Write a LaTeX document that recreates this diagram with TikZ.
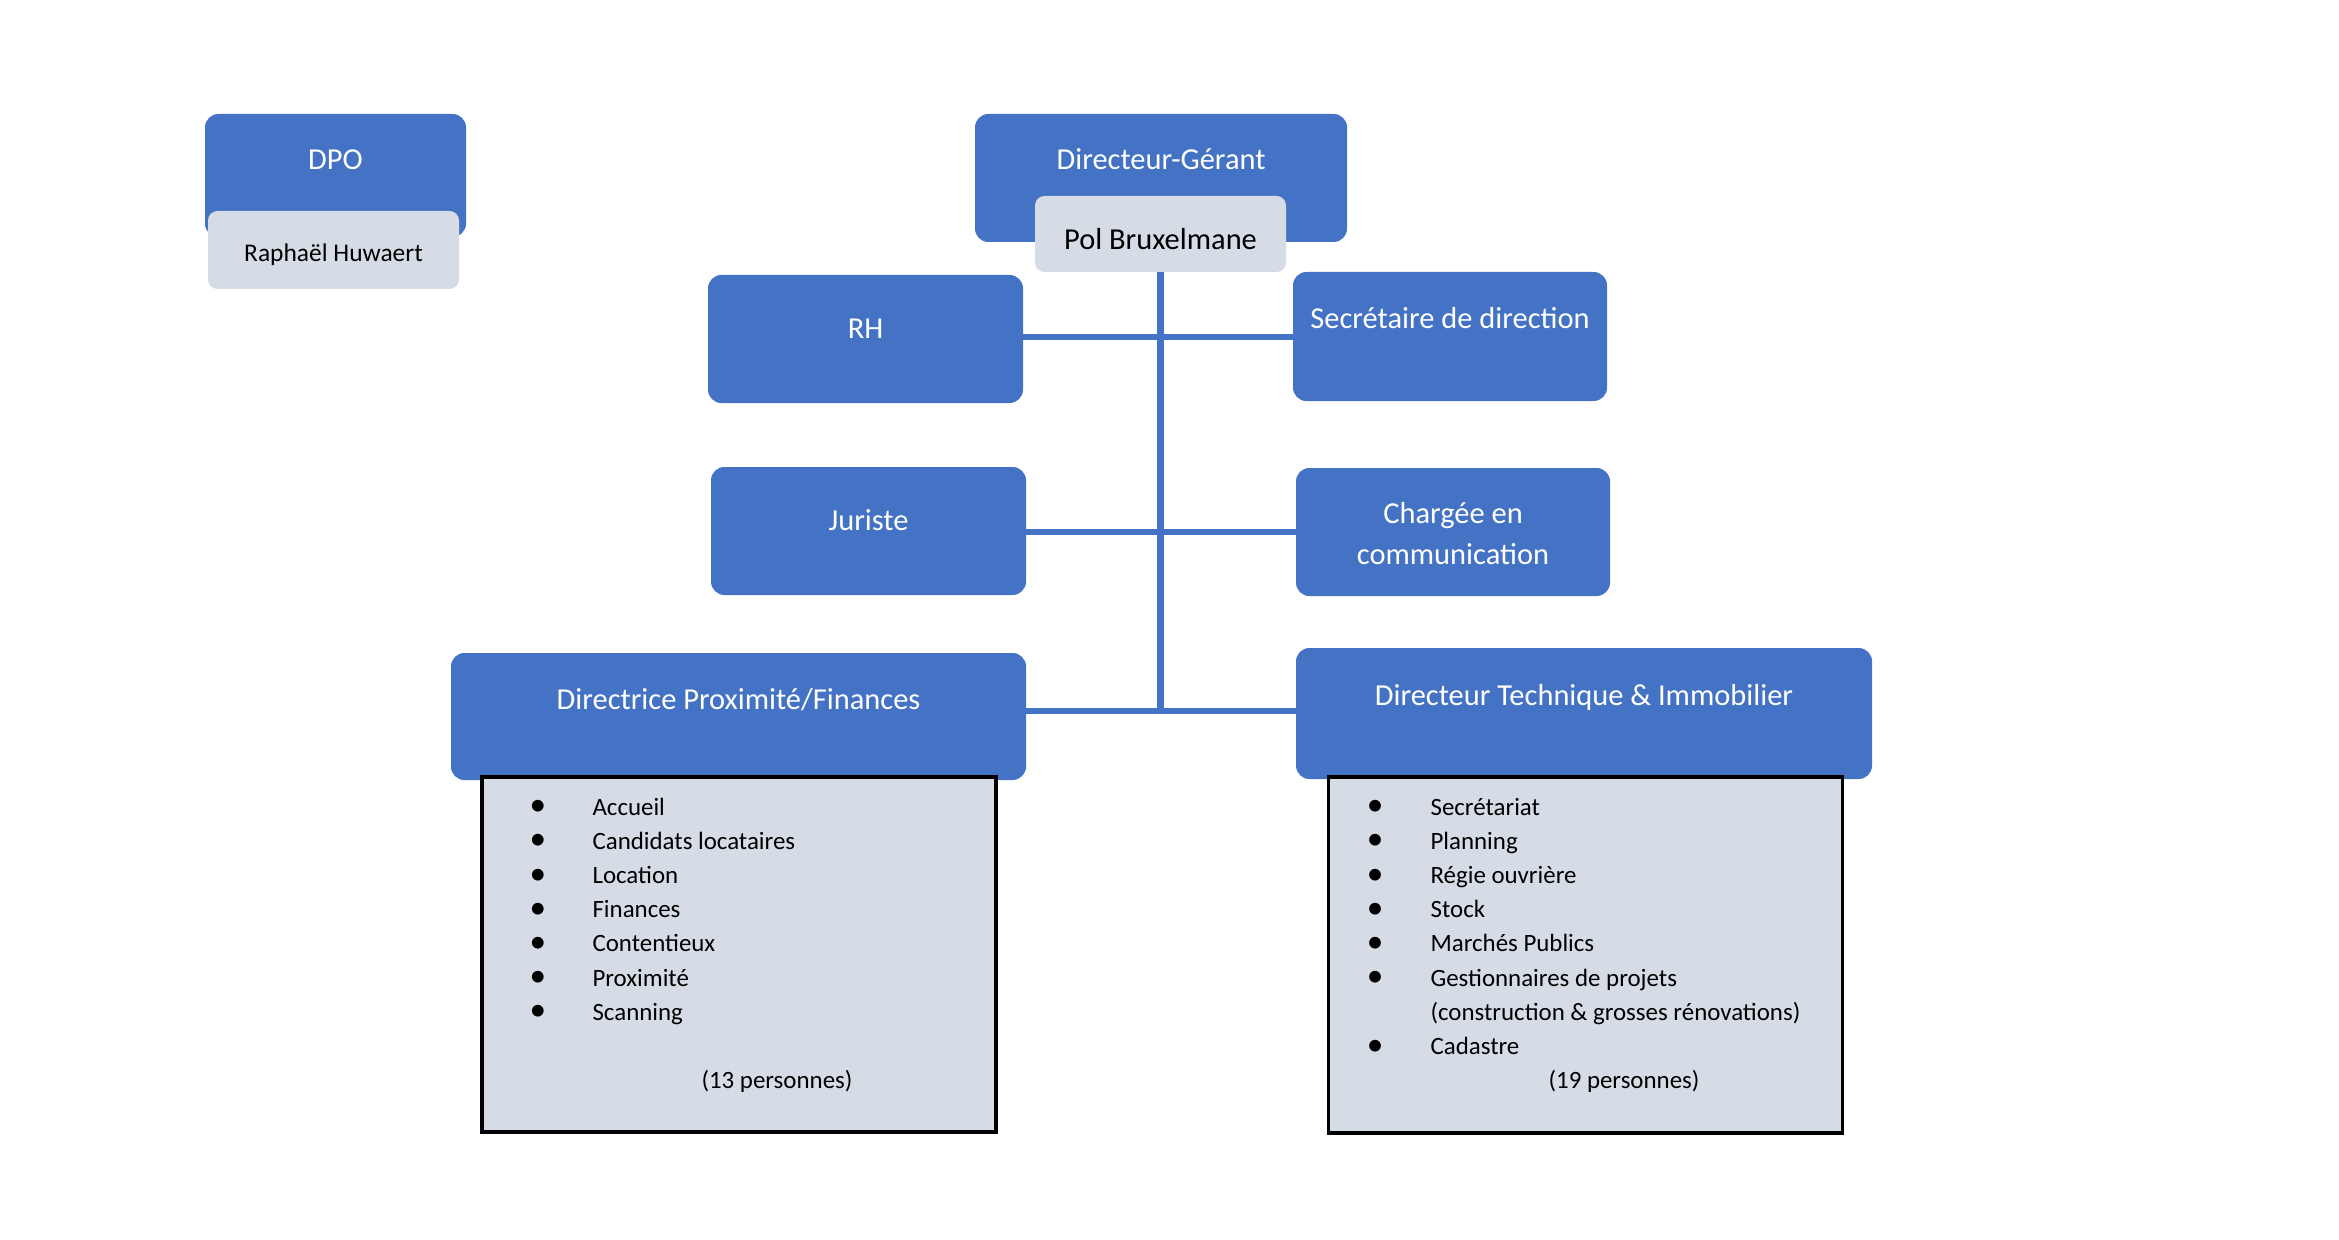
\documentclass[tikz,border=0pt]{standalone}
\usepackage{fontspec}
\setmainfont{Carlito}
\definecolor{cblue}{HTML}{4472C4}
\definecolor{clight}{HTML}{D6DCE5}
\newcommand\mkbox[6]{\node[#2, minimum width={(#5-#3)*0.127mm}, minimum height={(#6-#4)*0.127mm}] (#1) at ({(#3+#5)/2},{(#4+#6)/2}) {};}
\begin{document}
\begin{tikzpicture}[x=0.127mm,y=-0.127mm,
 bluebox/.style={fill=cblue, draw=none, rounded corners=1.7mm, inner sep=0, outer sep=0},
 lightbox/.style={fill=clight, draw=none, rounded corners=1.2mm, inner sep=0, outer sep=0},
 listbox/.style={fill=clight, draw=black, line width=1.1pt, inner sep=0, outer sep=0},
 wtext/.style={text=white, font=\fontsize{11}{13}\selectfont, inner sep=0, anchor=base},
 ktext/.style={text=black, font=\fontsize{11}{13}\selectfont, inner sep=0, anchor=base},
 stext/.style={text=black, font=\fontsize{9.2}{11}\selectfont, inner sep=0, anchor=base},
 itext/.style={text=black, font=\fontsize{9}{11}\selectfont, inner sep=0, anchor=base west},
 ctext/.style={text=black, font=\fontsize{9}{11}\selectfont, inner sep=0, anchor=base},
 bul/.style={text=black, font=\fontsize{12}{12}\selectfont, inner sep=0, anchor=center},
 link/.style={draw=cblue, line width=2.5pt}]
\useasboundingbox (0,0) rectangle (2339,1239);
% boxes
\mkbox{dpo}{bluebox}{205}{114}{466}{237}
\mkbox{raph}{lightbox}{208}{211}{459}{289}
\mkbox{dg}{bluebox}{975}{114}{1347}{242}
\mkbox{pol}{lightbox}{1035}{196}{1286}{272}
\mkbox{rh}{bluebox}{708}{275}{1023}{403}
\mkbox{sec}{bluebox}{1293}{272}{1607}{401}
\mkbox{jur}{bluebox}{711}{467}{1026}{595}
\mkbox{cha}{bluebox}{1296}{468}{1610}{596}
\mkbox{dpf}{bluebox}{451}{653}{1026}{780}
\mkbox{dti}{bluebox}{1296}{648}{1872}{779}
\mkbox{lstl}{listbox}{482}{777}{996}{1132}
\mkbox{lstr}{listbox}{1328}{777}{1842}{1133}
% connectors
\coordinate (j1) at (1160,337);
\coordinate (j2) at (1160,532);
\coordinate (j3) at (1160,711);
\draw[link] (pol.south) -- (pol.south |- j3);
\draw[link] (rh.east |- j1) -- (sec.west |- j1);
\draw[link] (jur.east |- j2) -- (cha.west |- j2);
\draw[link] (dpf.east |- j3) -- (dti.west |- j3);
% texts
\node[wtext] (tdpo) at (dpo.center |- 0,170) {DPO};
\node[stext] (traph) at (raph.center |- 0,262) {Raphaël Huwaert};
\node[wtext] (tdg) at (dg.center |- 0,170) {Directeur-Gérant};
\node[ktext] (tpol) at (pol.center |- 0,249) {Pol Bruxelmane};
\node[wtext] (trh) at (rh.center |- 0,339) {RH};
\node[wtext] (tsec) at (sec.center |- 0,329) {Secrétaire de direction};
\node[wtext] (tjur) at (jur.center |- 0,530) {Juriste};
\node[wtext] (tcha1) at (cha.center |- 0,523) {Chargée en};
\node[wtext] (tcha2) at (cha.center |- 0,564) {communication};
\node[wtext] (tdpf) at (dpf.center |- 0,709) {Directrice Proximité/Finances};
\node[wtext] (tdti) at (dti.center |- 0,705) {Directeur Technique \& Immobilier};
% left list
\foreach \t [count=\i] in {Accueil,Candidats locataires,Location,Finances,Contentieux,Proximité,Scanning} {
  \node[itext] (la\i) at (592,{815+34.2*(\i-1)}) {\t};
  \node[bul] (lb\i) at (538,{808+34.2*(\i-1)}) {•};
}
\node[ctext] (lnum) at (777,1088) {(13 personnes)};
% right list
\foreach \t [count=\i] in {Secrétariat,Planning,Régie ouvrière,Stock,Marchés Publics,Gestionnaires de projets} {
  \node[itext] (ra\i) at (1430,{815+34.2*(\i-1)}) {\t};
  \node[bul] (rb\i) at (1375,{808+34.2*(\i-1)}) {•};
}
\node[itext] (ra7) at (1430,{815+34.2*6}) {(construction \& grosses rénovations)};
\node[itext] (ra8) at (1430,{815+34.2*7}) {Cadastre};
\node[bul] (rb8) at (1375,{808+34.2*7}) {•};
\node[ctext] (rnum) at (1624,1088) {(19 personnes)};
\end{tikzpicture}
\end{document}
